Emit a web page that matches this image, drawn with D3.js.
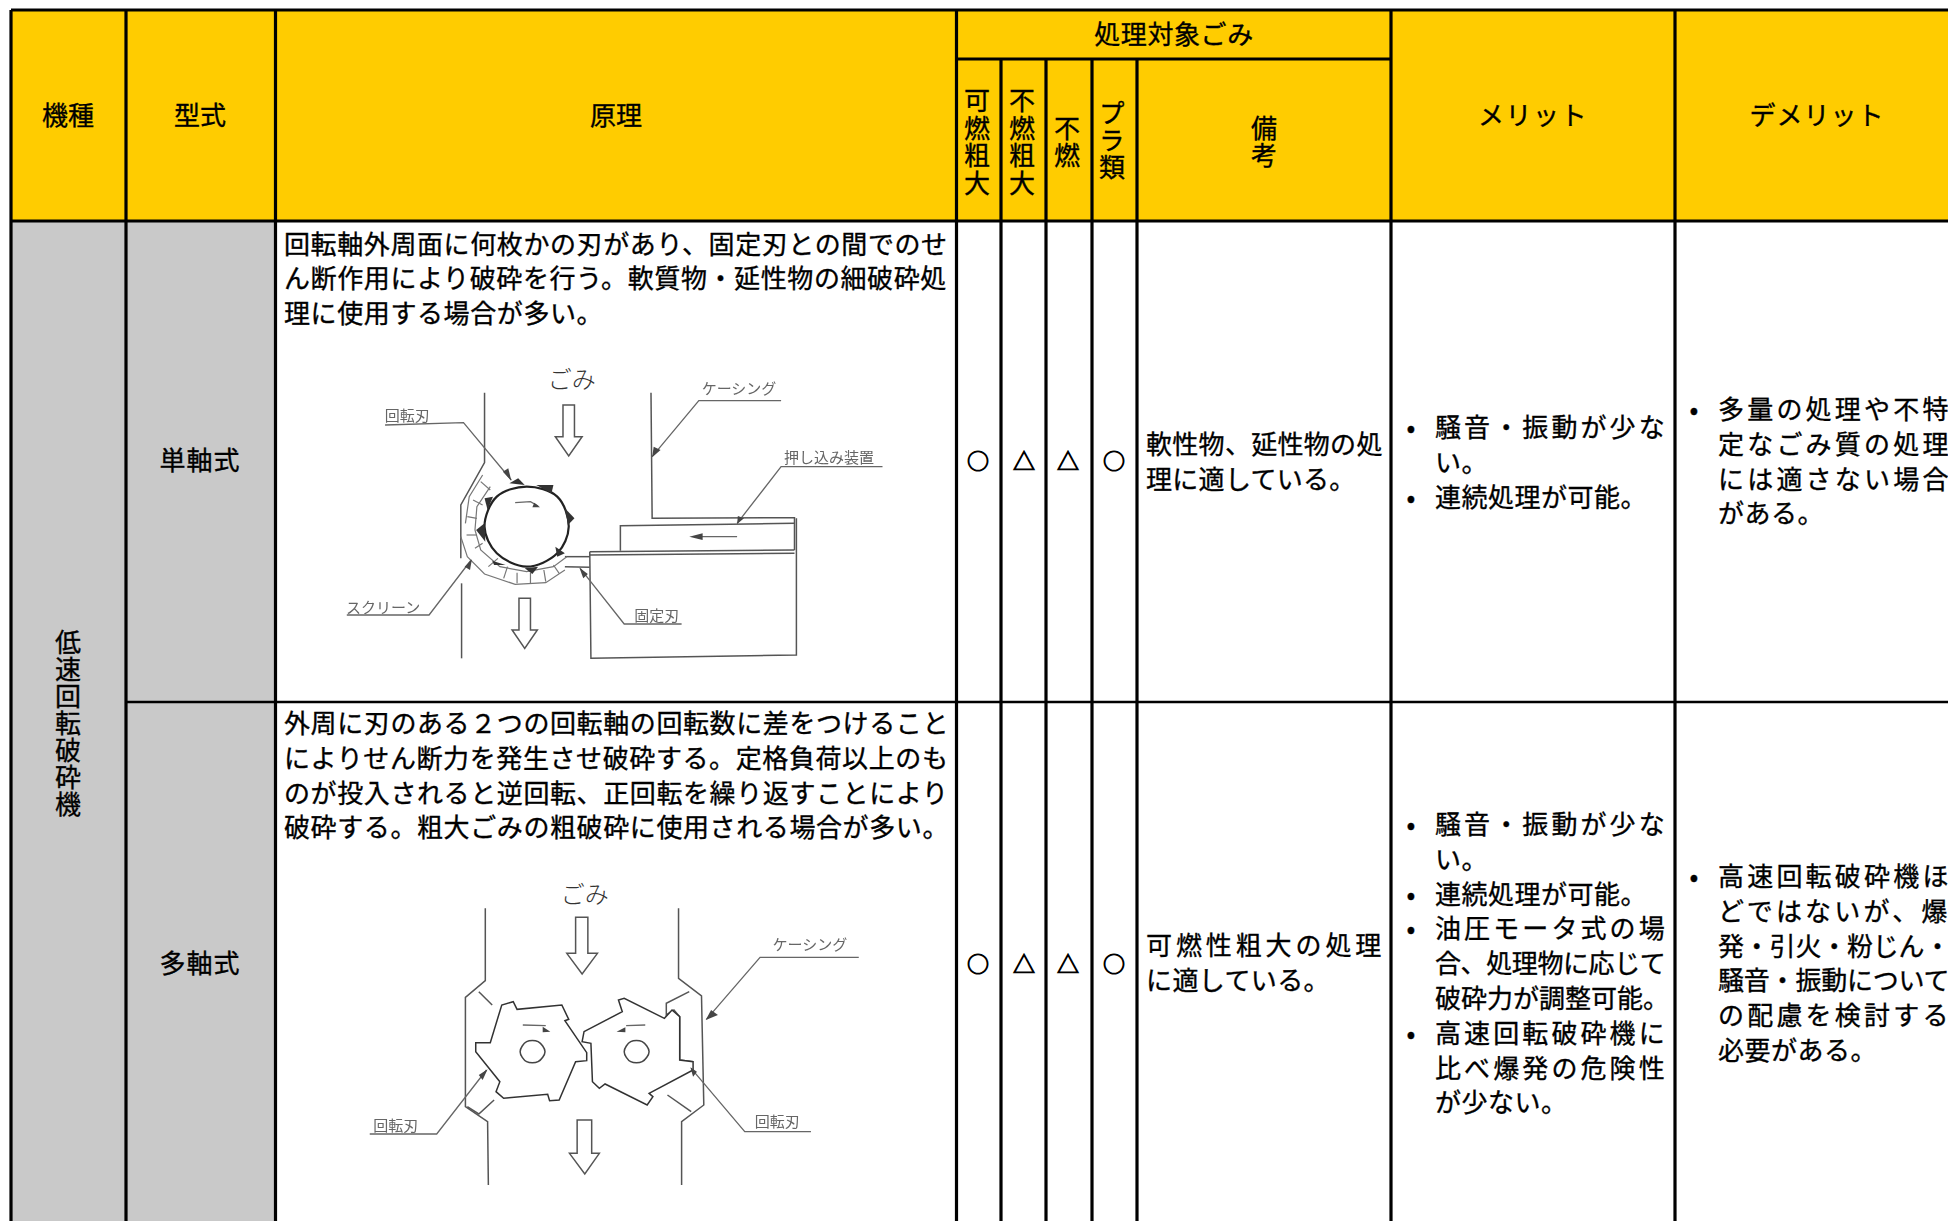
<!DOCTYPE html>
<html lang="ja">
<head>
<meta charset="utf-8">
<script src="https://cdn.jsdelivr.net/npm/d3@7"></script>
<style>
	html, body { margin: 0; padding: 0; background: #fff; overflow: hidden; }
	svg { display: block; }
	text { font-family: "Noto Sans CJK JP", "Noto Sans", sans-serif; fill: #000; }
</style>
</head>
<body>
<div id="chart"></div>
<script>
// table contents
let headerMain	= [ '機種', '型式', '原理' ] ;
let headerGroup	= '処理対象ごみ' ;
let headerSub	= [ '可燃粗大', '不燃粗大', '不燃', 'プラ類', '備考' ] ;
let headerEnd	= [ 'メリット', 'デメリット' ] ;
let machine		= '低速回転破砕機' ;
let types		= [ '単軸式', '多軸式' ] ;
let ratings		= [ [ '○', '△', '△', '○' ], [ '○', '△', '△', '○' ] ] ;

let principle	= [
	[ '回転軸外周面に何枚かの刃があり、固定刃との間でのせ', 'ん断作用により破砕を行う。軟質物・延性物の細破砕処', '理に使用する場合が多い。' ],
	[ '外周に刃のある２つの回転軸の回転数に差をつけること', 'によりせん断力を発生させ破砕する。定格負荷以上のも', 'のが投入されると逆回転、正回転を繰り返すことにより', '破砕する。粗大ごみの粗破砕に使用される場合が多い。' ]
] ;
let remarks		= [
	[ '軟性物、延性物の処', '理に適している。' ],
	[ '可燃性粗大の処理', 'に適している。' ]
] ;
// "• " marks the start of a list item
let merits		= [
	[ '• 騒音・振動が少な', 'い。', '• 連続処理が可能。' ],
	[ '• 騒音・振動が少な', 'い。', '• 連続処理が可能。', '• 油圧モータ式の場', '合、処理物に応じて', '破砕力が調整可能。', '• 高速回転破砕機に', '比べ爆発の危険性', 'が少ない。' ]
] ;
let demerits	= [
	[ '• 多量の処理や不特', '定なごみ質の処理', 'には適さない場合', 'がある。' ],
	[ '• 高速回転破砕機ほ', 'どではないが、爆', '発・引火・粉じん・', '騒音・振動について', 'の配慮を検討する', '必要がある。' ]
] ;

// diagram line work in crop pixels
let single = {
	walls: [
		[ [430,128],[430,338],[368,465],[368,625] ],
		[ [370,700],[370,925] ],
		[ [865,128],[868,505],[1240,503],[1240,600] ],
		[ [785,602],[785,527],[1240,520] ],
		[ [705,605],[1240,600] ],
		[ [705,615],[1240,610] ],
		[ [640,620],[705,620] ],
		[ [640,650],[705,652] ],
		[ [705,605],[708,925],[1245,915],[1245,505] ]
	],
	screen: [
		[ [445,410],[410,470],[405,540],[420,600],[470,650],[540,665],[610,650],[645,620] ],
		[ [368,560],[385,620],[430,672],[510,703],[590,698],[640,660] ],
		[ [425,375],[390,440],[380,520] ],
		[ [385,500],[410,505] ], [ [383,555],[410,555] ], [ [405,595],[425,580] ],
		[ [440,650],[465,625] ], [ [480,685],[490,650] ], [ [515,700],[515,668] ],
		[ [550,700],[550,668] ], [ [590,695],[585,660] ], [ [625,670],[610,645] ],
		[ [400,450],[425,465] ], [ [420,395],[445,420] ]
	],
	rotor: [ [430,530],[462,440],[540,410],[620,440],[650,530],[620,610],[540,650],[462,610] ],
	blades: [
		[ [495,400],[518,385],[535,405] ],
		[ [565,405],[610,405],[605,430] ],
		[ [640,475],[665,505],[648,525] ],
		[ [615,590],[640,610],[620,620] ],
		[ [535,655],[570,650],[555,672] ],
		[ [450,632],[485,645],[455,645] ],
		[ [430,520],[408,540],[432,575] ],
		[ [452,440],[430,445],[438,480] ]
	],
	arrows: [
		[ [635,165],[665,165],[665,260],[685,260],[650,318],[615,260],[635,260] ],
		[ [520,745],[550,745],[550,840],[568,840],[535,895],[502,840],[520,840] ]
	],
	leaders: [
		[ [170,225],[375,218],[500,390] ],
		[ [1205,152],[990,152],[868,320] ],
		[ [1470,350],[1205,350],[1090,520] ],
		[ [70,795],[285,795],[395,630] ],
		[ [945,822],[795,822],[680,655] ],
		[ [510,458],[550,455],[570,468] ],
		[ [1090,560],[990,560] ]
	],
	heads: [
		[ [965,560],[1000,550],[1000,570] ], [ [575,472],[560,458],[555,472] ],
		[ [500,392],[478,365],[492,355] ], [ [868,322],[872,290],[890,300] ], [ [1090,522],[1092,498],[1108,505] ],
		[ [397,628],[378,650],[392,660] ], [ [678,653],[700,672],[688,685] ]
	],
	labels: [ [ '回転刃',228,193 ], [ 'ケーシング',1095,112 ], [ '押し込み装置',1330,318 ], [ 'スクリーン',165,768 ], [ '固定刃',880,792 ] ],
	gomi: [ 'ごみ',658,90 ]
} ;

let multi = {
	walls: [
		[ [432,145],[432,362],[380,412],[380,740],[438,785],[440,975] ],
		[ [937,145],[937,355],[997,408],[1003,735],[945,785],[945,975] ],
		[ [415,395],[450,435] ],
		[ [385,740],[415,762],[455,720] ],
		[ [965,395],[905,430],[905,465],[925,450],[940,470],[940,600],[975,605] ],
		[ [908,705],[970,755] ]
	],
	rotors: [
		[ [407,548],[445,548],[475,435],[505,425],[515,448],[632,435],[650,478],[640,482],[697,578],[697,602],[668,605],[625,720],[600,722],[595,703],[480,715],[460,695],[470,665],[407,575] ],
		[ [690,515],[790,455],[780,420],[795,415],[900,475],[920,450],[940,470],[940,600],[975,605],[975,630],[860,700],[870,710],[855,735],[745,672],[730,685],[712,665],[708,550],[685,545] ]
	],
	hubs: [
		[ [523,575],[540,545],[570,545],[588,575],[570,605],[540,605] ],
		[ [795,575],[812,545],[842,545],[860,575],[842,605],[812,605] ]
	],
	arrows: [
		[ [668,172],[700,172],[700,280],[725,280],[685,342],[645,280],[668,280] ],
		[ [672,780],[710,780],[710,880],[730,880],[692,942],[652,880],[672,880] ]
	],
	leaders: [
		[ [130,822],[305,822],[435,630] ],
		[ [1408,292],[1150,292],[1010,478] ],
		[ [1283,815],[1110,815],[970,625] ],
		[ [530,495],[590,497] ],
		[ [850,495],[800,497] ]
	],
	heads: [
		[ [582,500],[602,515],[582,517] ], [ [775,515],[798,502],[798,517] ],
		[ [438,628],[415,645],[425,660] ], [ [1008,480],[1022,450],[1040,465] ], [ [968,622],[985,635],[975,650] ]
	],
	labels: [ [ '回転刃',198,792 ], [ 'ケーシング',1280,250 ], [ '回転刃',1195,782 ] ],
	gomi: [ 'ごみ',692,105 ]
} ;

// set the dimensions of the page and table
let svgwidth 	= 1948 ;
let svgheight 	= 1221 ;
let fontSize	= 26 ;
let lineStep	= 34.8 ;
let textShift	= -2.5 ;	// central baseline sits a bit low for this font

let colEdges	= [ 11, 126, 275.5, 956.5, 1001, 1046, 1092, 1137, 1391, 1675, 1948 ] ;
let rowEdges	= { top: 10, groupBottom: 59, head: 221, split: 702, bottom: 1221 } ;

let svg	= 	d3.select("#chart").append("svg")
				.attr("width", svgwidth )
				.attr("height", svgheight )
				.attr("viewBox", "0 0 " + svgwidth + " " + svgheight )
			;

let defs = svg.append("defs") ;
defs.append("filter").attr("id", "scan")
	.append("feGaussianBlur").attr("stdDeviation", 0.6) ;

// backgrounds
let fills = [
	{ x0: colEdges[0], x1: colEdges[10], y0: rowEdges.top,  y1: rowEdges.head,   c: "#FFCC00" },
	{ x0: colEdges[0], x1: colEdges[2],  y0: rowEdges.head, y1: rowEdges.bottom, c: "#C9C9C9" }
] ;

svg.append("g").selectAll("rect").data(fills).join("rect")
	.attr("x", d => d.x0 )
	.attr("y", d => d.y0 )
	.attr("width", d => d.x1 - d.x0 )
	.attr("height", d => d.y1 - d.y0 )
	.attr("fill", d => d.c )
;

// grid lines
let grid = [] ;
colEdges.slice(0, 10).forEach( (x, i) => {
	// the sub columns start under the group header
	let from = ( i >= 4 && i <= 7 ) ? rowEdges.groupBottom : rowEdges.top ;
	grid.push({ x1: x, x2: x, y1: from, y2: rowEdges.bottom, w: 3.2 }) ;
}) ;
grid.push({ x1: colEdges[0], x2: svgwidth,    y1: rowEdges.top,         y2: rowEdges.top,         w: 3.2 }) ;
grid.push({ x1: colEdges[3], x2: colEdges[8], y1: rowEdges.groupBottom, y2: rowEdges.groupBottom, w: 3.2 }) ;
grid.push({ x1: colEdges[0], x2: svgwidth,    y1: rowEdges.head,        y2: rowEdges.head,        w: 3.2 }) ;
grid.push({ x1: colEdges[1], x2: svgwidth,    y1: rowEdges.split,       y2: rowEdges.split,       w: 2.6 }) ;

svg.append("g").selectAll("line").data(grid).join("line")
	.attr("x1", d => d.x1 ).attr("x2", d => d.x2 )
	.attr("y1", d => d.y1 ).attr("y2", d => d.y2 )
	.attr("stroke", "#000")
	.attr("stroke-width", d => d.w )
;

// one line of text at a fixed character pitch
let putText = ( g, str, x, y, pitch, anchor, size )=>{
	let t = g.append("text")
		.attr("x", x)
		.attr("y", y + textShift)
		.attr("dominant-baseline", "central")
		.attr("font-size", size || fontSize)
		.attr("text-anchor", anchor || "start")
		.attr("stroke", "#000")
		.attr("stroke-width", 0.35)
		.text(str)
	;
	if( pitch ) t.attr("letter-spacing", pitch - ( size || fontSize ) ) ;
	return t ;
}

// one text running downwards, y0 is the middle of its first character
let putVertical = ( g, str, x, y0, step )=>{
	g.append("text")
		.attr("x", x)
		.attr("y", y0 + 0.5 - fontSize / 2)
		.attr("font-size", fontSize)
		.attr("stroke", "#000")
		.attr("stroke-width", 0.35)
		.attr("letter-spacing", step - fontSize)
		.style("writing-mode", "vertical-rl")
		.text(str)
	;
}

let head = svg.append("g") ;
let headX = [ 68, 200, 616 ] ;
headerMain.forEach( (s, i) => putText(head, s, headX[i], 115.5, null, "middle") ) ;
putText(head, headerGroup, 1174, 35, 26.6, "middle") ;
putVertical(head, headerSub[0], 977, 100, 27.4) ;
putVertical(head, headerSub[1], 1022, 100, 27.4) ;
putVertical(head, headerSub[2], 1067, 128, 27) ;
putVertical(head, headerSub[3], 1112, 113, 27) ;
putVertical(head, headerSub[4], 1264, 128, 27) ;
putText(head, headerEnd[0], 1533, 116, 27.5, "middle") ;
putText(head, headerEnd[1], 1817, 116, 27, "middle") ;

let body = svg.append("g") ;
putVertical(body, machine, 68, 642, 27) ;

let rowMid = [ 461, 964 ] ;
types.forEach( (s, i) => putText(body, s, 200, rowMid[i], 27, "middle") ) ;

let ratingX = [ 978, 1024, 1068, 1114 ] ;
ratings.forEach( (row, r) => {
	row.forEach( (s, c) => {
		putText(body, s, ratingX[c], rowMid[r], null, "middle", 22).attr("stroke-width", 1) ;
	}) ;
}) ;

// principle
let principleY = [ 244.5, 724 ] ;
principle.forEach( (lines, r) => {
	lines.forEach( (s, i) => putText(body, s, 284, principleY[r] + i * lineStep, 26.6) ) ;
}) ;

// remarks
let remarkY = [ 445, 946 ] ;
let remarkPitch = [ [ 26.3, 26.3 ], [ 29.9, 26.4 ] ] ;
remarks.forEach( (lines, r) => {
	lines.forEach( (s, i) => putText(body, s, 1146, remarkY[r] + i * lineStep, remarkPitch[r][i]) ) ;
}) ;

// list cells, item marks hang to the left of the text
let putList = ( lines, x, y0, pitches )=>{
	lines.forEach( (s, i) => {
		let y = y0 + i * lineStep ;
		let text = s ;
		if( s.startsWith('• ') ){
			putText(body, '•', x - 24, y, null, "middle") ;
			text = s.slice(2) ;
		}
		putText(body, text, x, y, pitches[i]) ;
	}) ;
}

putList(merits[0], 1435, 428, [ 29.1, 26.5, 26.5 ]) ;
putList(merits[1], 1435, 825, [ 29.1, 26.5, 26.5, 29.1, 25.6, 26, 29.1, 29.1, 26.5 ]) ;
putList(demerits[0], 1718, 410, [ 29.2, 29.2, 29.2, 26.5 ]) ;
putList(demerits[1], 1718, 877, [ 29.2, 29.2, 25.8, 25.8, 29.2, 26.5 ]) ;

// scanned diagrams, coordinates go through the crop scales
let drawDiagram = ( d, x, y, thin )=>{
	let g = svg.append("g").attr("filter", "url(#scan)") ;
	let line = d3.line().x( p => x(p[0]) ).y( p => y(p[1]) ) ;
	let grey = "#555" ;

	let stroke = ( list, color, width, close )=>{
		g.append("g").selectAll("path").data(list).join("path")
			.attr("d", p => line(p) + ( close ? "Z" : "" ) )
			.attr("fill", close ? "#fff" : "none")
			.attr("stroke", color)
			.attr("stroke-width", width)
		;
	} ;

	stroke(d.walls, grey, thin) ;
	if( d.screen ) stroke(d.screen, "#777", 1.2) ;
	if( d.rotors ) stroke(d.rotors, "#333", thin, true) ;
	if( d.hubs ){
		g.append("g").selectAll("path").data(d.hubs).join("path")
			.attr("d", d3.line().x( p => x(p[0]) ).y( p => y(p[1]) ).curve(d3.curveCatmullRomClosed) )
			.attr("fill", "none").attr("stroke", "#444").attr("stroke-width", thin)
		;
	}
	if( d.rotor ){
		g.append("path").datum(d.rotor)
			.attr("d", d3.line().x( p => x(p[0]) ).y( p => y(p[1]) ).curve(d3.curveCatmullRomClosed) )
			.attr("fill", "#fff").attr("stroke", "#222").attr("stroke-width", 2.2)
		;
		g.append("g").selectAll("path").data(d.blades).join("path")
			.attr("d", p => line(p) + "Z" )
			.attr("fill", "#333")
		;
	}
	stroke(d.arrows, "#555", thin, true) ;
	stroke(d.leaders, "#666", 1.3) ;

	g.append("g").selectAll("path").data(d.heads).join("path")
		.attr("d", p => line(p) + "Z" )
		.attr("fill", "#444")
	;

	g.append("g").selectAll("text").data(d.labels).join("text")
		.attr("x", p => x(p[1]) )
		.attr("y", p => y(p[2]) )
		.attr("text-anchor", "middle")
		.attr("dominant-baseline", "central")
		.attr("font-size", 15)
		.style("fill", "#666")
		.text( p => p[0] )
	;

	svg.append("text")
		.attr("x", x(d.gomi[1]) )
		.attr("y", y(d.gomi[2]) + textShift )
		.attr("text-anchor", "middle")
		.attr("dominant-baseline", "central")
		.attr("font-size", 24)
		.style("fill", "#333")
		.style("font-weight", 300)
		.text(d.gomi[0])
	;
}

drawDiagram( single,
	d3.scaleLinear().domain([0, 1568]).range([320, 920]),
	d3.scaleLinear().domain([0, 1050]).range([350, 700]),
	1.5
) ;
drawDiagram( multi,
	d3.scaleLinear().domain([0, 1568]).range([320, 920]),
	d3.scaleLinear().domain([0, 1083]).range([860, 1221]),
	1.5
) ;
</script>
</body>
</html>
